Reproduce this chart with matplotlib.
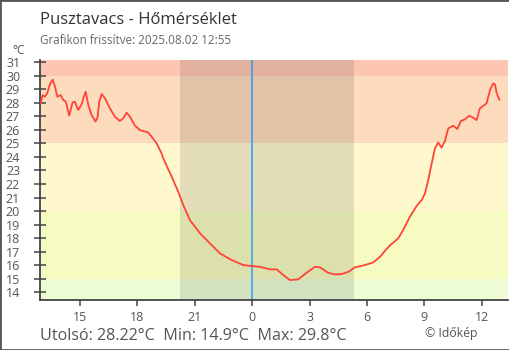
"""
Pusztavacs temperature chart (last 24h), Időkép style.
"""

import matplotlib
matplotlib.use("Agg")
import matplotlib.pyplot as plt
from matplotlib.patches import Rectangle

plt.rcParams["font.family"] = ["Open Sans", "DejaVu Sans"]

# hours relative to midnight (negative = previous day)
hours = [
    -11.06, -10.96, -10.84, -10.72, -10.58, -10.43, -10.31, -10.19, -10.02, -9.88,
    -9.74, -9.57, -9.39, -9.27, -9.10, -8.92, -8.83, -8.71, -8.57, -8.40,
    -8.19, -8.08, -8.00, -7.87, -7.70, -7.44, -7.18, -6.92, -6.74, -6.57,
    -6.39, -6.13, -5.87, -5.44, -5.26, -5.00, -4.74, -4.65, -4.21, -3.87,
    -3.61, -3.26, -2.73, -2.21, -1.69, -1.08, -0.47, 0.00, 0.40, 0.93,
    1.28, 1.62, 1.97, 2.40, 2.84, 3.28, 3.54, 3.97, 4.32, 4.67,
    5.02, 5.37, 5.89, 6.33, 6.68, 6.94, 7.20, 7.63, 7.89, 8.24,
    8.59, 8.86, 9.03, 9.20, 9.38, 9.55, 9.72, 9.90, 10.07, 10.25,
    10.51, 10.72, 10.91, 11.12, 11.34, 11.55, 11.73, 11.90, 12.08, 12.25,
    12.43, 12.60, 12.69, 12.78, 12.92,
]
temps = [
    27.95, 28.56, 28.44, 28.69, 29.35, 29.70, 29.18, 28.44, 28.56, 28.20,
    28.07, 27.04, 28.03, 28.07, 27.46, 27.88, 28.32, 28.81, 27.83, 27.09,
    26.60, 26.96, 28.07, 28.64, 28.32, 27.58, 26.96, 26.65, 26.85, 27.26,
    26.96, 26.30, 25.98, 25.80, 25.49, 25.00, 24.26, 23.89, 22.53, 21.43,
    20.45, 19.34, 18.36, 17.62, 16.88, 16.39, 16.02, 15.94, 15.89, 15.70,
    15.70, 15.28, 14.91, 14.96, 15.45, 15.89, 15.85, 15.45, 15.33, 15.35,
    15.52, 15.85, 16.02, 16.22, 16.63, 17.07, 17.47, 17.99, 18.60, 19.58,
    20.37, 20.82, 21.31, 22.29, 23.52, 24.63, 25.07, 24.68, 25.17, 26.11,
    26.30, 26.06, 26.65, 26.77, 27.04, 26.89, 26.72, 27.58, 27.77, 27.95,
    28.93, 29.43, 29.35, 28.69, 28.22,
]

# temperature bands (lower, upper, colour)
band_edges = [13, 15, 20, 25, 30, 32]
band_colors = ["#eefcd5", "#f5fbc1", "#fff8cf", "#fcdcbd", "#fdc6b2"]

# night (sunset -> sunrise), hours relative to midnight
sunset = -3.78
sunrise = 5.30

x_ticks = [-9, -6, -3, 0, 3, 6, 9, 12]
x_labels = ["15", "18", "21", "0", "3", "6", "9", "12"]
y_ticks = list(range(14, 32))

title = "Pusztavacs - Hőmérséklet"
subtitle = "Grafikon frissítve: 2025.08.02 12:55"
last_val = 28.22
min_val = 14.9
max_val = 29.8


def main():
    fig = plt.figure(figsize=(5.1, 3.5), dpi=100)
    ax = fig.add_axes([40.3 / 510, 50 / 350, 467.7 / 510, 240 / 350])

    for lo, hi, col in zip(band_edges[:-1], band_edges[1:], band_colors):
        ax.axhspan(lo, hi, color=col, lw=0, zorder=0)
    ax.axvspan(sunset, sunrise, color="black", alpha=0.105, lw=0, zorder=1)
    ax.axvline(0, color="#2a9df4", lw=1.1, zorder=2)

    ax.plot(hours, temps, color="#ff4438", lw=1.3, zorder=3)

    ax.set_xlim(-11.08, 13.37)
    ax.set_ylim(13.44, 31.15)

    ax.set_xticks(x_ticks)
    ax.set_xticklabels(x_labels)
    ax.set_yticks(y_ticks)

    for side in ["top", "right"]:
        ax.spines[side].set_visible(False)
    for side in ["left", "bottom"]:
        ax.spines[side].set_color("#444444")
        ax.spines[side].set_linewidth(1.3)

    ax.tick_params(axis="y", direction="inout", length=9, width=1.1,
                   color="#444444", labelcolor="#555555", labelsize=9, pad=10)
    ax.tick_params(axis="x", direction="out", length=4.5, width=1.1,
                   color="#444444", labelcolor="#555555", labelsize=9, pad=3.5)

    fig.text(40.5 / 510, 1 - 24.3 / 350, title, fontsize=12, color="#333333",
             va="baseline")
    fig.text(40.5 / 510, 1 - 44.3 / 350, subtitle, fontsize=8.4, color="#666666",
             va="baseline")
    fig.text(19 / 510, 1 - 54.5 / 350, "°C", fontsize=8.5, color="#555555",
             va="baseline", ha="center")

    footer = f"Utolsó: {last_val:.2f}°C  Min: {min_val}°C  Max: {max_val}°C"
    fig.text(40.5 / 510, 1 - 340 / 350, footer, fontsize=11.6, color="#555555",
             va="baseline")
    fig.text(425 / 510, 1 - 336.7 / 350, "© Időkép", fontsize=8.8,
             color="#555555", va="baseline")

    fig.patches.append(Rectangle((0, 0), 1, 1, transform=fig.transFigure,
                                 fill=False, edgecolor="#555555", lw=2))

    fig.savefig("out.png", dpi=100)


if __name__ == "__main__":
    main()
